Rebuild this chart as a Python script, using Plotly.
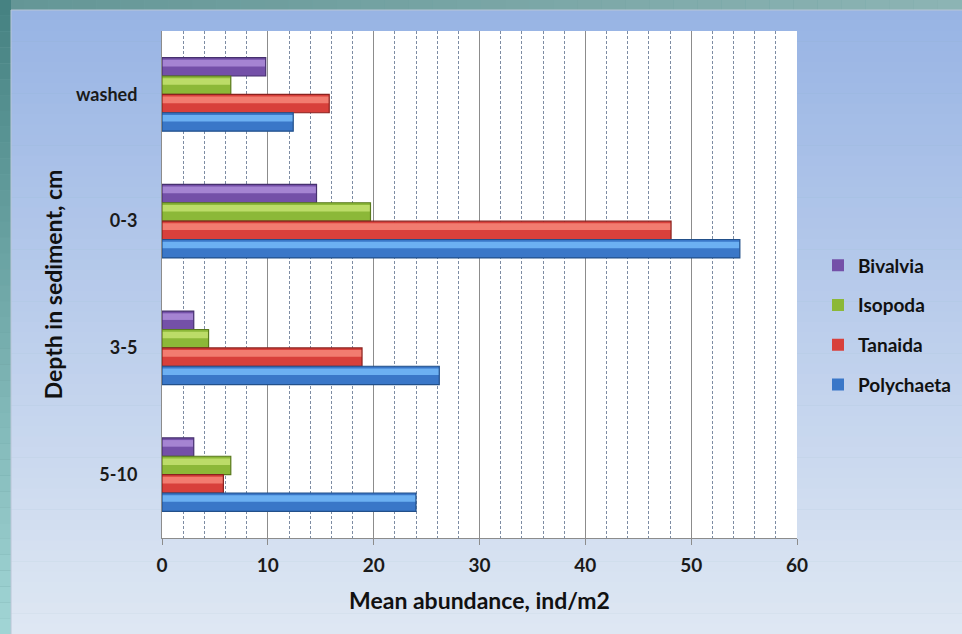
import plotly.graph_objects as go

# ---- data -------------------------------------------------------------
depths = ["washed", "0-3", "3-5", "5-10"]
bivalvia = [9.8, 14.6, 3.0, 3.0]
isopoda = [6.5, 19.7, 4.4, 6.5]
tanaida = [15.8, 48.1, 18.9, 5.8]
polychaeta = [12.4, 54.6, 26.2, 24.0]
x_tick_values = [0, 10, 20, 30, 40, 50, 60]

# ---- canvas geometry ----------------------------------------------------
W, H = 962, 634
M_L, M_R, M_T, M_B = 162, 165, 31, 96
PW, PH = W - M_L - M_R, H - M_T - M_B


def px_x(px):
    return (px - M_L) / PW


def px_y(py):
    return (H - M_B - py) / PH


def mix(c1, c2, t):
    return "rgb({},{},{})".format(*[round(a + (b - a) * t) for a, b in zip(c1, c2)])


shapes = []
# left teal border strip (vertical gradient)
n = 40
for i in range(n):
    y0, y1 = H * i / n, H * (i + 1) / n
    shapes.append(dict(type="rect", xref="paper", yref="paper", layer="below",
                       x0=px_x(0), x1=px_x(11), y0=px_y(y1), y1=px_y(y0),
                       fillcolor=mix((70, 130, 130), (160, 212, 212), i / (n - 1)),
                       line=dict(width=0)))
# top border strip (horizontal gradient)
for i in range(n):
    x0, x1 = W * i / n, W * (i + 1) / n
    shapes.append(dict(type="rect", xref="paper", yref="paper", layer="below",
                       x0=px_x(max(x0, 11)), x1=px_x(x1), y0=px_y(10), y1=px_y(0),
                       fillcolor=mix((100, 150, 150), (140, 180, 180), i / (n - 1)),
                       line=dict(width=0)))
# light-blue chart panel (vertical gradient)
n = 60
top = 10
for i in range(n):
    y0 = top + (H - top) * i / n
    y1 = top + (H - top) * (i + 1) / n + 0.6
    shapes.append(dict(type="rect", xref="paper", yref="paper", layer="below",
                       x0=px_x(11), x1=px_x(W), y0=px_y(min(y1, H)), y1=px_y(y0),
                       fillcolor=mix((152, 180, 228), (222, 231, 243), i / (n - 1)),
                       line=dict(width=0)))
# panel edge
shapes.append(dict(type="rect", xref="paper", yref="paper", layer="below",
                   x0=px_x(11), x1=px_x(W + 2), y0=px_y(H + 2), y1=px_y(10),
                   fillcolor="rgba(0,0,0,0)", line=dict(color="#b9c6d6", width=1)))
# white plotting area
shapes.append(dict(type="rect", xref="x domain", yref="y domain", layer="below",
                   x0=0, x1=1, y0=0, y1=1, fillcolor="white", line=dict(width=0)))

# ---- bars ---------------------------------------------------------------
BAR_W = 0.145
series = [
    # name, values, offset, base, highlight, edge
    ("Bivalvia", bivalvia, BAR_W, "#7450a8", "#a584d2", "#46306e"),
    ("Isopoda", isopoda, 0.0, "#8cb838", "#bcdc68", "#5a7a1e"),
    ("Tanaida", tanaida, -BAR_W, "#d8403b", "#f27c70", "#8a221f"),
    ("Polychaeta", polychaeta, -2 * BAR_W, "#3a77c8", "#6cb0f2", "#22508a"),
]

fig = go.Figure()
for name, vals, off, base, hi, edge in series:
    fig.add_trace(go.Bar(
        y=depths, x=vals, orientation="h", name=name, legendgroup=name,
        offset=off, width=BAR_W, marker=dict(color=base, line=dict(width=0)),
        showlegend=True, hoverinfo="x+name"))
    fig.add_trace(go.Bar(
        y=depths, x=vals, orientation="h", name=name, legendgroup=name,
        offset=off + BAR_W * 0.52, width=BAR_W * 0.36,
        marker=dict(color=hi, line=dict(width=0)),
        showlegend=False, hoverinfo="skip"))
    fig.add_trace(go.Bar(
        y=depths, x=vals, orientation="h", name=name, legendgroup=name,
        offset=off, width=BAR_W,
        marker=dict(color="rgba(0,0,0,0)", line=dict(color=edge, width=1.2)),
        showlegend=False, hoverinfo="skip"))

FONT = "Lato"
fig.update_layout(
    width=W, height=H,
    margin=dict(l=M_L, r=M_R, t=M_T, b=M_B, pad=0, autoexpand=False),
    paper_bgcolor="#6fa3a3",
    plot_bgcolor="rgba(0,0,0,0)",
    barmode="overlay",
    shapes=shapes,
    font=dict(family=FONT, color="#1a1a1a"),
    legend=dict(
        x=px_x(818), xanchor="left", y=px_y(325), yanchor="middle",
        traceorder="grouped", tracegroupgap=12,
        font=dict(family=FONT, size=19, color="#111111", weight="bold"),
        bgcolor="rgba(0,0,0,0)", itemwidth=30,
    ),
    xaxis=dict(
        range=[0, 60], tickvals=x_tick_values,
        showgrid=True, gridcolor="#8c8c8c", gridwidth=1,
        minor=dict(dtick=2, showgrid=True, gridcolor="#7d8ca3",
                   griddash="3px,2px", gridwidth=1),
        showline=True, linecolor="#8c8c8c", linewidth=1,
        ticks="outside", ticklen=6, tickcolor="#8c8c8c",
        tickfont=dict(family=FONT, size=19, color="#1a1a1a", weight="bold"),
        ticklabelstandoff=4,
        zeroline=False,
        title=dict(text="Mean abundance, ind/m2", standoff=18,
                   font=dict(family=FONT, size=23, color="#111111", weight="bold")),
    ),
    yaxis=dict(
        type="category", categoryorder="array",
        categoryarray=list(reversed(depths)),
        showgrid=False, showline=True, linecolor="#8c8c8c", linewidth=1,
        ticks="", ticklabelstandoff=20,
        tickfont=dict(family=FONT, size=18, color="#1a1a1a", weight="bold"),
        title=dict(text="Depth in sediment, cm", standoff=6,
                   font=dict(family=FONT, size=23, color="#111111", weight="bold")),
    ),
)

fig.write_html("out.html")
